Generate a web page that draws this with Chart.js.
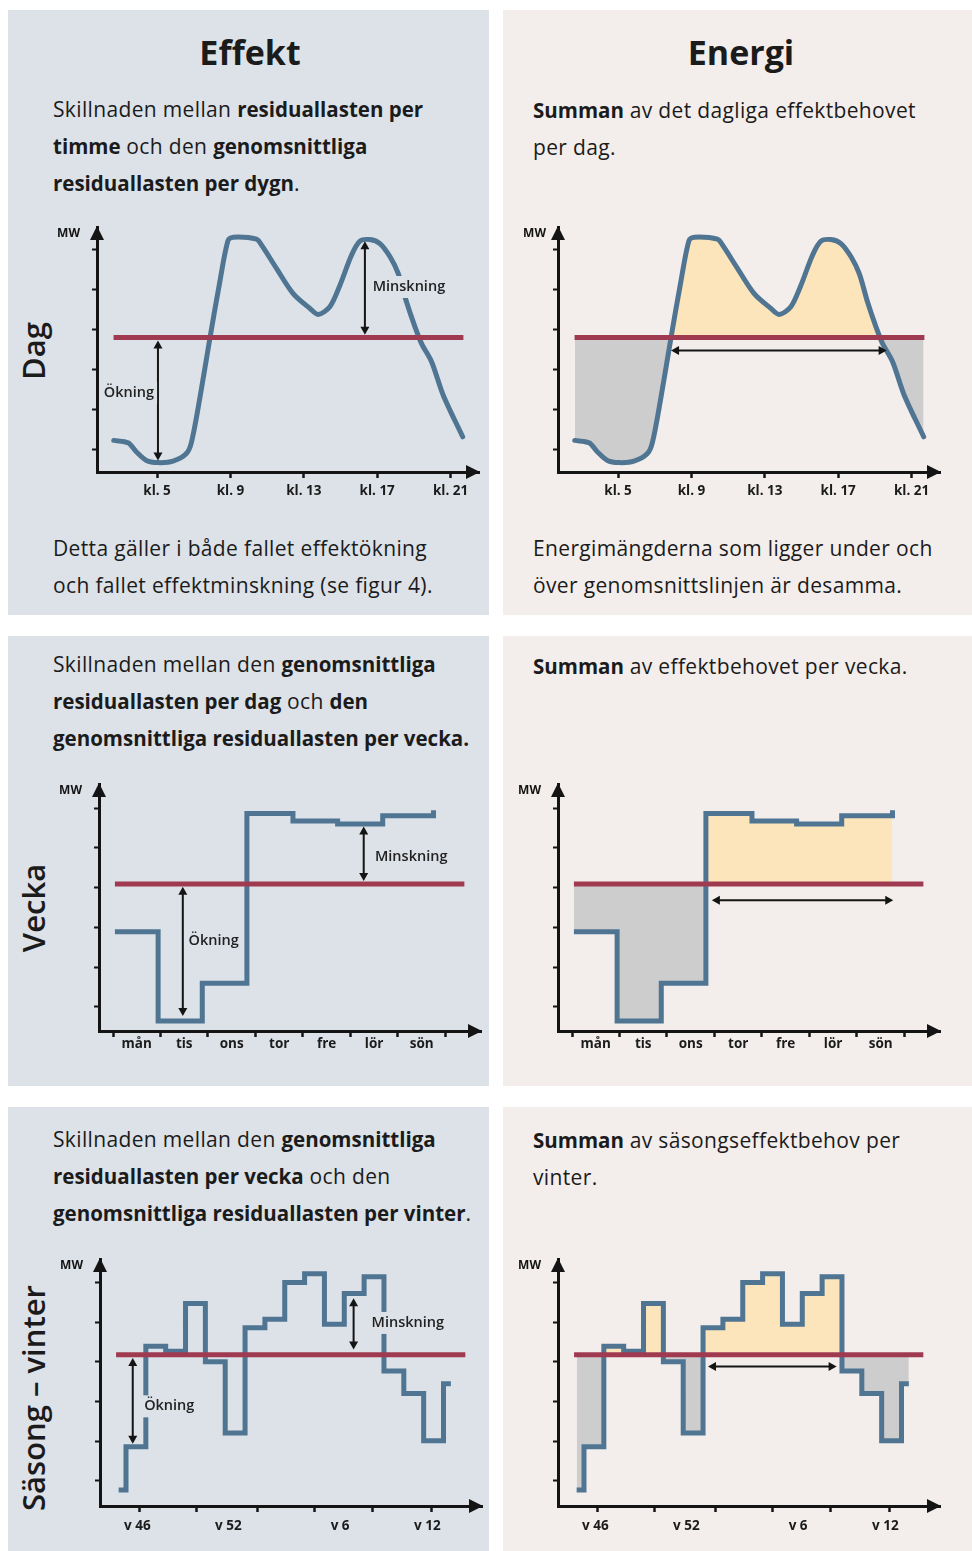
<!DOCTYPE html>
<html><head><meta charset="utf-8">
<script src="https://cdn.jsdelivr.net/npm/chart.js@4/dist/chart.umd.min.js"></script>
<style>
body{margin:0;width:972px;height:1551px;background:#fff;position:relative;overflow:hidden;font-family:"Open Sans",sans-serif;color:#1b1b1b}
.panel{position:absolute}
.L{background:#dce2e8}
.R{background:#f3eeec}
.t{position:absolute;white-space:nowrap;font-size:21px;letter-spacing:0.35px;line-height:37px}
.t b{font-weight:700;font-size:20.5px;letter-spacing:0}
.title{position:absolute;font-weight:700;font-size:34px;line-height:40px;transform:translateX(-50%);white-space:nowrap}
.row{position:absolute;font-size:31px;font-weight:600;line-height:36px;transform:translate(-50%,-50%) rotate(-90deg);white-space:nowrap}
canvas{position:absolute}
</style></head><body>
<div class="panel L" style="left:8px;top:10px;width:481px;height:605px"></div>
<div class="panel R" style="left:503px;top:10px;width:469px;height:605px"></div>
<div class="panel L" style="left:8px;top:636px;width:481px;height:450px"></div>
<div class="panel R" style="left:503px;top:636px;width:469px;height:450px"></div>
<div class="panel L" style="left:8px;top:1107px;width:481px;height:444px"></div>
<div class="panel R" style="left:503px;top:1107px;width:469px;height:444px"></div>

<div class="title" style="left:250px;top:32px">Effekt</div>
<div class="title" style="left:741px;top:32px">Energi</div>

<div class="row" style="left:33px;top:351px">Dag</div>
<div class="row" style="left:33px;top:908px">Vecka</div>
<div class="row" style="left:33px;top:1398px">Säsong – vinter</div>

<div class="t" style="left:53px;top:91px">Skillnaden mellan <b>residuallasten per</b><br><b>timme</b> och den <b>genomsnittliga</b><br><b>residuallasten per dygn</b>.</div>
<div class="t" style="left:533px;top:92px"><b>Summan</b> av det dagliga effektbehovet<br>per dag.</div>
<div class="t" style="left:53px;top:530px">Detta gäller i både fallet effektökning<br>och fallet effektminskning (se figur 4).</div>
<div class="t" style="left:533px;top:530px">Energimängderna som ligger under och<br>över genomsnittslinjen är desamma.</div>

<div class="t" style="left:53px;top:646px">Skillnaden mellan den <b>genomsnittliga</b><br><b>residuallasten per dag</b> och <b>den</b><br><b>genomsnittliga residuallasten per vecka.</b></div>
<div class="t" style="left:533px;top:648px"><b>Summan</b> av effektbehovet per vecka.</div>

<div class="t" style="left:53px;top:1121px">Skillnaden mellan den <b>genomsnittliga</b><br><b>residuallasten per vecka</b> och den<br><b>genomsnittliga residuallasten per vinter</b>.</div>
<div class="t" style="left:533px;top:1122px"><b>Summan</b> av säsongseffektbehov per<br>vinter.</div>

<canvas id="c1"></canvas><canvas id="c2"></canvas>
<canvas id="c3"></canvas><canvas id="c4"></canvas>
<canvas id="c5"></canvas><canvas id="c6"></canvas>

<script>
// ---------- DATA ----------
// Dag (hourly residual load, schematic MW)
const dagHours = [2.64, 3.42, 3.88, 4.42, 5.05, 5.87, 6.6, 6.88, 7.33, 7.88, 8.42, 8.87, 9.15, 10.42, 10.7, 11.51, 12.42, 13.33, 13.78, 14.42, 14.97, 15.6, 16.06, 16.6, 17.15, 17.7, 18.15, 18.6, 19.06, 19.42, 19.97, 20.6, 21.66];
const dagLoad  = [1.22, 1.16, 0.93, 0.72, 0.665, 0.70, 0.89, 1.18, 2.27, 3.77, 5.18, 6.22, 6.30, 6.25, 6.10, 5.52, 4.89, 4.52, 4.37, 4.56, 5.10, 5.85, 6.20, 6.24, 6.14, 5.81, 5.39, 4.68, 4.06, 3.64, 3.18, 2.35, 1.31];
const dagAvg = 3.79;
const dagAvgSpan = [2.63, 21.7];
const dagTickHours = [5, 9, 13, 17, 21];
const dagTickLabels = ['kl. 5', 'kl. 9', 'kl. 13', 'kl. 17', 'kl. 21'];

// Vecka (daily average, stepped)
const veckaStepStart = [0.04, 0.95, 1.88, 2.82, 3.79, 4.73, 5.68, 6.75];
const veckaLoad      = [2.89, 0.64, 1.59, 5.87, 5.68, 5.60, 5.81, 5.95];
const veckaAvg = 4.09;
const veckaAvgSpan = [0.04, 7.4];
const veckaTickBounds = [0, 1, 2, 3, 4, 5, 6, 7];
const veckaLabelPos = [0.5, 1.5, 2.5, 3.5, 4.5, 5.5, 6.5];
const veckaDays = ['mån', 'tis', 'ons', 'tor', 'fre', 'lör', 'sön'];

// Säsong – vinter (weekly average, stepped)
const seasonStepStart = [-0.37, 0, 1, 2, 3, 4, 5, 6, 7, 8, 9, 10, 11, 12, 13, 14, 15, 16, 16.37];
const seasonLoad      = [0.77, 1.86, 4.39, 4.27, 5.47, 4.00, 2.21, 4.86, 5.07, 6.00, 6.22, 4.95, 5.72, 6.14, 3.77, 3.20, 2.01, 3.45, 3.45];
const seasonAvg = 4.18;
const seasonAvgSpan = [-0.5, 17.1];
const seasonTickPos = [0.66, 3.57, 6.62, 9.5, 12.44, 15.42];
const seasonLabelPos = [0.57, 5.16, 10.79, 15.19];
const seasonLabels = ['v 46', 'v 52', 'v 6', 'v 12'];

const yTickVals = [1, 2, 3, 4, 5, 6];

// ---------- STYLE ----------
const BLUE = '#4f7592', RED = '#a03a50', PEACH = '#fde5bb', GRAY = '#cdcdcd', INK = '#141414';
const LBG = '#dce2e8', RBG = '#f3eeec';
const FONT = '"Open Sans", sans-serif';
Chart.defaults.font.family = FONT;

const PL = 70, PT = 12, PR = 10, PB = 40, YW = 8, XLH = 34;

function pts(xs, ys) { return xs.map((x, i) => ({x, y: ys[i]})); }

const deco = {
  id: 'deco',
  afterDatasetsDraw(chart, args, o) {
    const {ctx, chartArea: a} = chart;
    const x = chart.scales.x, y = chart.scales.y;
    ctx.save();
    ctx.fillStyle = INK;
    // axis arrowheads
    ctx.beginPath(); ctx.moveTo(a.left, a.top - 1); ctx.lineTo(a.left - 7, a.top + 13); ctx.lineTo(a.left + 7, a.top + 13); ctx.closePath(); ctx.fill();
    ctx.beginPath(); ctx.moveTo(a.right + 1, a.bottom); ctx.lineTo(a.right - 13, a.bottom - 7); ctx.lineTo(a.right - 13, a.bottom + 7); ctx.closePath(); ctx.fill();
    // MW
    ctx.font = 'bold 12px ' + FONT; ctx.textAlign = 'right'; ctx.textBaseline = 'middle';
    ctx.fillText('MW', a.left - o.mwDx, a.top + 7);
    // double arrows
    ctx.strokeStyle = INK; ctx.lineWidth = 2;
    (o.arrows || []).forEach(r => {
      const x1 = x.getPixelForValue(r[0]), y1 = y.getPixelForValue(r[1]);
      const x2 = x.getPixelForValue(r[2]), y2 = y.getPixelForValue(r[3]);
      const ang = Math.atan2(y2 - y1, x2 - x1), H = 8, W = 4.5;
      const c = Math.cos(ang), s = Math.sin(ang);
      ctx.beginPath(); ctx.moveTo(x1 + c * H * 0.8, y1 + s * H * 0.8); ctx.lineTo(x2 - c * H * 0.8, y2 - s * H * 0.8); ctx.stroke();
      [[x1, y1, 1], [x2, y2, -1]].forEach(([px, py, d]) => {
        ctx.beginPath(); ctx.moveTo(px, py);
        ctx.lineTo(px + d * c * H - s * W, py + d * s * H + c * W);
        ctx.lineTo(px + d * c * H + s * W, py + d * s * H - c * W);
        ctx.closePath(); ctx.fill();
      });
    });
    // text labels with background
    ctx.font = '600 14.5px ' + FONT; ctx.textAlign = 'center'; ctx.textBaseline = 'middle';
    (o.labels || []).forEach(l => {
      const px = x.getPixelForValue(l[1]), py = y.getPixelForValue(l[2]);
      const w = ctx.measureText(l[0]).width;
      ctx.fillStyle = o.bg; ctx.fillRect(px - w / 2 - 3, py - 11, w + 6, 22);
      ctx.fillStyle = '#222'; ctx.fillText(l[0], px, py);
    });
    ctx.restore();
  }
};

function makeChart(id, area, xr, yr, tickVals, labelVals, labelTexts, labelPad, datasets, o) {
  const cv = document.getElementById(id);
  const w = area[2] - area[0] + PL + PR, h = area[3] - area[1] + PT + PB;
  cv.style.left = (area[0] - PL) + 'px'; cv.style.top = (area[1] - PT) + 'px';
  cv.width = w; cv.height = h; cv.style.width = w + 'px'; cv.style.height = h + 'px';
  return new Chart(cv, {
    type: 'line',
    data: {datasets},
    options: {
      responsive: false, animation: false, devicePixelRatio: 1,
      layout: {padding: {left: PL - YW, top: PT, right: PR, bottom: PB - XLH}},
      plugins: {legend: {display: false}, tooltip: {enabled: false}, deco: o},
      elements: {point: {radius: 0}},
      scales: {
        x: {type: 'linear', position: 'bottom', weight: 0, min: xr[0], max: xr[1],
            afterBuildTicks: s => { s.ticks = tickVals.map(v => ({value: v})); },
            afterFit: s => { s.height = 0; },
            grid: {display: true, drawOnChartArea: false, drawTicks: true, tickLength: 6, tickWidth: 2.5, tickColor: INK, color: INK},
            border: {display: true, color: INK, width: 3},
            ticks: {display: false}},
        xl: {type: 'linear', position: 'bottom', weight: 1, min: xr[0], max: xr[1],
            afterBuildTicks: s => { s.ticks = labelVals.map(v => ({value: v})); },
            afterFit: s => { s.height = XLH; },
            grid: {display: false}, border: {display: false},
            ticks: {display: true, autoSkip: false, maxRotation: 0, minRotation: 0, padding: labelPad, color: '#1b1b1b',
                    font: {family: FONT, size: 13.5, weight: 'bold'}, callback: (v, i) => labelTexts[i]}},
        y: {type: 'linear', position: 'left', min: yr[0], max: yr[1],
            afterBuildTicks: s => { s.ticks = yTickVals.map(v => ({value: v})); },
            afterFit: s => { s.width = YW; },
            grid: {display: true, drawOnChartArea: false, drawTicks: true, tickLength: 5, tickWidth: 2, tickColor: INK, color: INK},
            border: {display: true, color: INK, width: 3},
            ticks: {display: false}}
      }
    },
    plugins: [deco]
  });
}

function avgLine(span, v) {
  return {data: pts(span, [v, v]), borderColor: RED, borderWidth: 5, borderCapStyle: 'butt', pointRadius: 0, order: 0, xAxisID: 'x', yAxisID: 'y'};
}
function curve(xs, ys, extra, fillAvg) {
  const d = Object.assign({data: pts(xs, ys), borderColor: BLUE, borderWidth: 5, pointRadius: 0, order: 1,
    xAxisID: 'x', yAxisID: 'y', fill: false}, extra);
  if (fillAvg !== undefined) d.fill = {target: {value: fillAvg}, above: PEACH, below: GRAY};
  return d;
}

const dagX = [1.727, 22.55], dagY = [0.43, 6.555];
const vecX = [-0.295, 7.75], vecY = [0.39, 6.61];
const seaX = [-1.31, 17.94], seaY = [0.37, 6.59];
const dagCurve = {tension: 0.3, borderCapStyle: 'round', borderJoinStyle: 'round'};
const stepCurve = {stepped: 'before', borderCapStyle: 'butt', borderJoinStyle: 'miter'};

makeChart('c1', [97, 227, 479, 472], dagX, dagY, dagTickHours, dagTickHours, dagTickLabels, 3,
  [avgLine(dagAvgSpan, dagAvg), curve(dagHours, dagLoad, dagCurve)],
  {bg: LBG, mwDx: 17, arrows: [[5.05, 3.72, 5.05, 0.72], [16.33, 6.2, 16.33, 3.86]],
   labels: [['Ökning', 3.47, 2.415], ['Minskning', 18.73, 5.055]]});
makeChart('c2', [558, 227, 940, 472], dagX, dagY, dagTickHours, dagTickHours, dagTickLabels, 3,
  [avgLine(dagAvgSpan, dagAvg), curve(dagHours, dagLoad, dagCurve, dagAvg)],
  {bg: RBG, mwDx: 12, arrows: [[7.89, 3.47, 19.64, 3.47]], labels: []});

makeChart('c3', [99, 784, 481, 1031], vecX, vecY, veckaTickBounds, veckaLabelPos, veckaDays, -3,
  [avgLine(veckaAvgSpan, veckaAvg), curve(veckaStepStart, veckaLoad, stepCurve)],
  {bg: LBG, mwDx: 17, arrows: [[1.47, 4.02, 1.47, 0.77], [5.28, 5.54, 5.28, 4.17]],
   labels: [['Ökning', 2.12, 2.66], ['Minskning', 6.28, 4.78]]});
makeChart('c4', [558, 784, 940, 1031], vecX, vecY, veckaTickBounds, veckaLabelPos, veckaDays, -3,
  [avgLine(veckaAvgSpan, veckaAvg), curve(veckaStepStart, veckaLoad, stepCurve, veckaAvg)],
  {bg: RBG, mwDx: 17, arrows: [[2.945, 3.68, 6.765, 3.68]], labels: []});

makeChart('c5', [100, 1259, 482, 1506], seaX, seaY, seasonTickPos, seasonLabelPos, seasonLabels, 4,
  [avgLine(seasonAvgSpan, seasonAvg), curve(seasonStepStart, seasonLoad, stepCurve)],
  {bg: LBG, mwDx: 17, arrows: [[0.34, 4.1, 0.34, 1.94], [11.47, 5.6, 11.47, 4.31]],
   labels: [['Ökning', 2.18, 2.88], ['Minskning', 14.2, 4.98]]});
makeChart('c6', [558, 1259, 940, 1506], seaX, seaY, seasonTickPos, seasonLabelPos, seasonLabels, 4,
  [avgLine(seasonAvgSpan, seasonAvg), curve(seasonStepStart, seasonLoad, stepCurve, seasonAvg)],
  {bg: RBG, mwDx: 17, arrows: [[6.25, 3.88, 12.73, 3.88]], labels: []});
</script>
</body></html>
